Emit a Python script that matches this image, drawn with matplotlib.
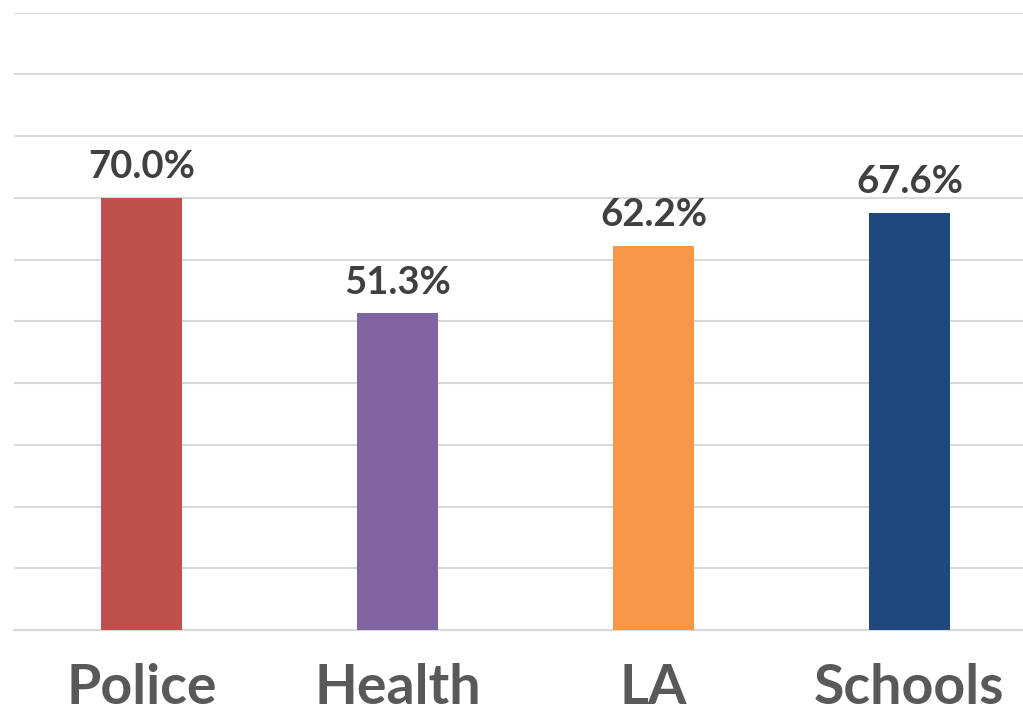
import matplotlib
matplotlib.use('Agg')
import matplotlib.pyplot as plt

# chart data
categories = ['Police', 'Health', 'LA', 'Schools']
values = [70.0, 51.3, 62.2, 67.6]
colors = ['#C0504D', '#8064A2', '#F79646', '#1F497D']

plt.rcParams['font.family'] = ['Lato', 'DejaVu Sans']

fig = plt.figure(figsize=(10.23, 7.21), dpi=100)
# axes runs a bit past the right edge like the original
ax = fig.add_axes([13.5 / 1023, 91 / 721, 1024 / 1023, 617.5 / 721])

x = range(len(categories))
bars = ax.bar(x, values, width=0.316, color=colors, zorder=3)

for xi, v in zip(x, values):
    ax.text(xi, v + 2.2, f'{v:.1f}%', ha='center', va='bottom',
            fontsize=27.5, fontweight='bold', color='#404040')

ax.set_xlim(-0.5, 3.5)
ax.set_ylim(0, 100)
ax.set_yticks(range(0, 101, 10))
ax.yaxis.grid(True, color='#D9D9D9', linewidth=1.5, zorder=0)
ax.tick_params(axis='y', left=False, labelleft=False)
ax.set_xticks(list(x))
ax.set_xticklabels(categories, fontsize=40, fontweight='bold', color='#595959')
ax.tick_params(axis='x', length=0, pad=24)
for s in ['top', 'right', 'left']:
    ax.spines[s].set_visible(False)
ax.spines['bottom'].set_color('#D9D9D9')
ax.spines['bottom'].set_linewidth(1.5)

fig.savefig('out.png', dpi=100)
